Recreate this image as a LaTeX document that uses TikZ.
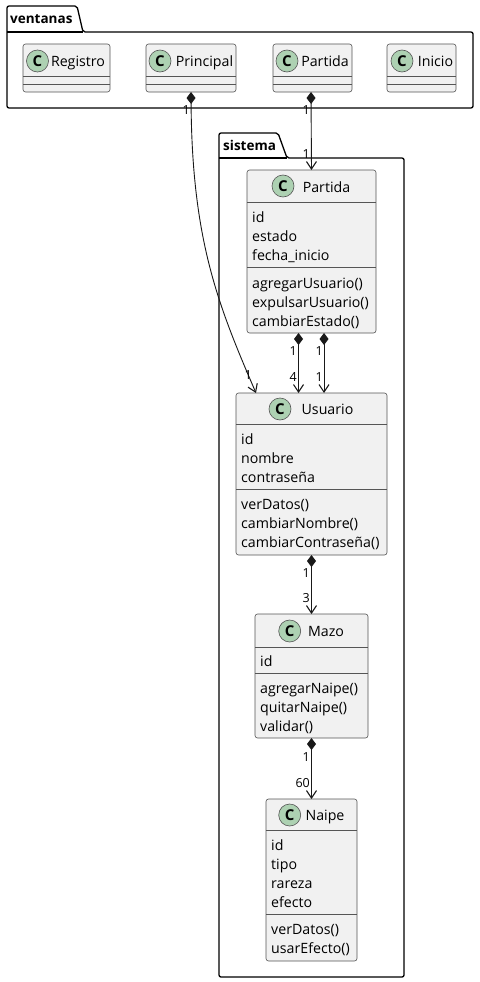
\documentclass[tikz,border=0pt]{standalone}
\usepackage{fontspec}
\setmainfont{Open Sans}
\usetikzlibrary{arrows.meta}
\definecolor{clsfill}{HTML}{F1F1F1}
\definecolor{clsborder}{HTML}{555555}
\definecolor{circfill}{HTML}{ADD1B2}
\tikzset{
  cls/.style={draw=clsborder, fill=clsfill, line width=0.6pt, rounded corners=2.5pt, inner sep=0pt, outer sep=0pt},
  pkg/.style={draw=black, fill=white, line width=1.3pt, rounded corners=2pt},
  pkglabel/.style={anchor=base west, inner sep=0pt, font=\bfseries\fontsize{13.5}{14}\selectfont},
  cbadge/.style={circle, draw=clsborder, fill=circfill, line width=0.6pt, minimum size=22pt, inner sep=0pt, font=\bfseries\fontsize{15}{15}\selectfont},
  cname/.style={anchor=base, inner sep=0pt, font=\fontsize{14.2}{14}\selectfont},
  member/.style={anchor=base west, inner sep=0pt, font=\fontsize{14.2}{14}\selectfont},
  sepline/.style={draw=clsborder, line width=0.6pt},
  comp/.style={line width=0.9pt, draw=black!90, {Diamond[length=12pt,width=9pt]}-{Straight Barb[length=7.5pt,width=10pt,line width=1.1pt]}},
  mult/.style={anchor=east, inner sep=0pt, font=\fontsize{12.5}{12}\selectfont},
}
% \umlbox{name}{left}{top}{right}{bottom}
\newcommand{\umlbox}[5]{%
  \node[cls, minimum width={(#4-#2)*1pt}, minimum height={(#5-#3)*1pt}] (#1) at ({(#2+#4)/2},{(#3+#5)/2}) {};}
\begin{document}
\begin{tikzpicture}[x=1pt,y=-1pt]
\useasboundingbox (0,0) rectangle (479,982);
% ---------- package ventanas
\draw[pkg] (7,108) -- (7,6) -- (77,6) -- (83,32) -- (473,32) -- (473,108) -- cycle;
\draw[line width=1.3pt] (7,32) -- (83,32);
\node[pkglabel] (lblventanas) at (10,24) {ventanas};
% ---------- package sistema
\draw[pkg] (219,977) -- (219,133) -- (278,133) -- (287,158) -- (404,158) -- (404,977) -- cycle;
\draw[line width=1.3pt] (219,158) -- (287,158);
\node[pkglabel] (lblsistema) at (223,150) {sistema};

% ---------- ventanas classes
\umlbox{Registro}{23}{44}{110}{92}
\draw[sepline] (23,76) -- (110,76); \draw[sepline] (23,84) -- (110,84);
\node[cbadge] (cRegistro) at (37.5,61) {C};
\node[cname] (nRegistro) at (78,66.5) {Registro};

\umlbox{Principal}{146}{44}{236}{92}
\draw[sepline] (146,76) -- (236,76); \draw[sepline] (146,84) -- (236,84);
\node[cbadge] (cPrincipal) at (160,61) {C};
\node[cname] (nPrincipal) at (204.5,66.5) {Principal};

\umlbox{vPartida}{273}{44}{352}{92}
\draw[sepline] (273,76) -- (352,76); \draw[sepline] (273,84) -- (352,84);
\node[cbadge] (cvPartida) at (287,61) {C};
\node[cname] (nvPartida) at (325,66.5) {Partida};

\umlbox{Inicio}{387}{44}{456}{92}
\draw[sepline] (387,76) -- (456,76); \draw[sepline] (387,84) -- (456,84);
\node[cbadge] (cInicio) at (402,61) {C};
\node[cname] (nInicio) at (435.5,66.5) {Inicio};

% ---------- sistema: Partida
\umlbox{sPartida}{247}{170}{376}{333}
\draw[sepline] (247,202) -- (376,202); \draw[sepline] (247,267) -- (376,267);
\node[cbadge] (csPartida) at (283,186) {C};
\node[cname] (nsPartida) at (326.5,192) {Partida};
\node[member] (p1) at (252,222) {id};
\node[member] (p2) at (252,241) {estado};
\node[member] (p3) at (252,260) {fecha\_inicio};
\node[member] (p4) at (252,288) {agregarUsuario()};
\node[member] (p5) at (252,307) {expulsarUsuario()};
\node[member] (p6) at (252,326) {cambiarEstado()};

% ---------- Usuario
\umlbox{Usuario}{236}{393}{387}{555}
\draw[sepline] (236,424) -- (387,424); \draw[sepline] (236,489) -- (387,489);
\node[cbadge] (cUsuario) at (280,409) {C};
\node[cname] (nUsuario) at (327.5,414.5) {Usuario};
\node[member] (u1) at (241,444) {id};
\node[member] (u2) at (241,463) {nombre};
\node[member] (u3) at (241,482) {contraseña};
\node[member] (u4) at (241,509) {verDatos()};
\node[member] (u5) at (241,528) {cambiarNombre()};
\node[member] (u6) at (241,547) {cambiarContraseña()};

% ---------- Mazo
\umlbox{Mazo}{255}{614}{368}{738}
\draw[sepline] (255,647) -- (368,647); \draw[sepline] (255,673) -- (368,673);
\node[cbadge] (cMazo) at (289.7,631) {C};
\node[cname] (nMazo) at (326,636.5) {Mazo};
\node[member] (m1) at (260,666) {id};
\node[member] (m2) at (260,693.5) {agregarNaipe()};
\node[member] (m3) at (260,712.5) {quitarNaipe()};
\node[member] (m4) at (260,731.5) {validar()};

% ---------- Naipe
\umlbox{Naipe}{266}{799}{357}{961}
\draw[sepline] (266,830) -- (357,830); \draw[sepline] (266,914) -- (357,914);
\node[cbadge] (cNaipe) at (289.7,815) {C};
\node[cname] (nNaipe) at (325,820.5) {Naipe};
\node[member] (k1) at (271,850) {id};
\node[member] (k2) at (271,869) {tipo};
\node[member] (k3) at (271,888) {rareza};
\node[member] (k4) at (271,907) {efecto};
\node[member] (k5) at (271,934) {verDatos()};
\node[member] (k6) at (271,953) {usarEfecto()};

% ---------- connectors
\draw[comp] (Principal.south) .. controls (192,240) and (218,305) .. ([xshift=-55.5pt]Usuario.north);
\draw[comp] ([xshift=-1.5pt]vPartida.south) -- (sPartida.north);
\draw[comp] ([xshift=-13pt]sPartida.south) -- ([xshift=-13pt]Usuario.north);
\draw[comp] ([xshift=12.5pt]sPartida.south) -- ([xshift=12.5pt]Usuario.north);
\draw[comp] (Usuario.south) -- (Mazo.north);
\draw[comp] (Mazo.south) -- (Naipe.north);

% ---------- multiplicities
\node[mult] (l1) at (190,110) {1};
\node[mult] (l2) at (252,375) {1};
\node[mult] (l3) at (310,110) {1};
\node[mult] (l4) at (310,154) {1};
\node[mult] (l5) at (297,351) {1};
\node[mult] (l6) at (297,377) {4};
\node[mult] (l7) at (323,351) {1};
\node[mult] (l8) at (323,377) {1};
\node[mult] (l9) at (310,573) {1};
\node[mult] (l10) at (310,598) {3};
\node[mult] (l11) at (310,757) {1};
\node[mult] (l12) at (310,783) {60};
\end{tikzpicture}
\end{document}
